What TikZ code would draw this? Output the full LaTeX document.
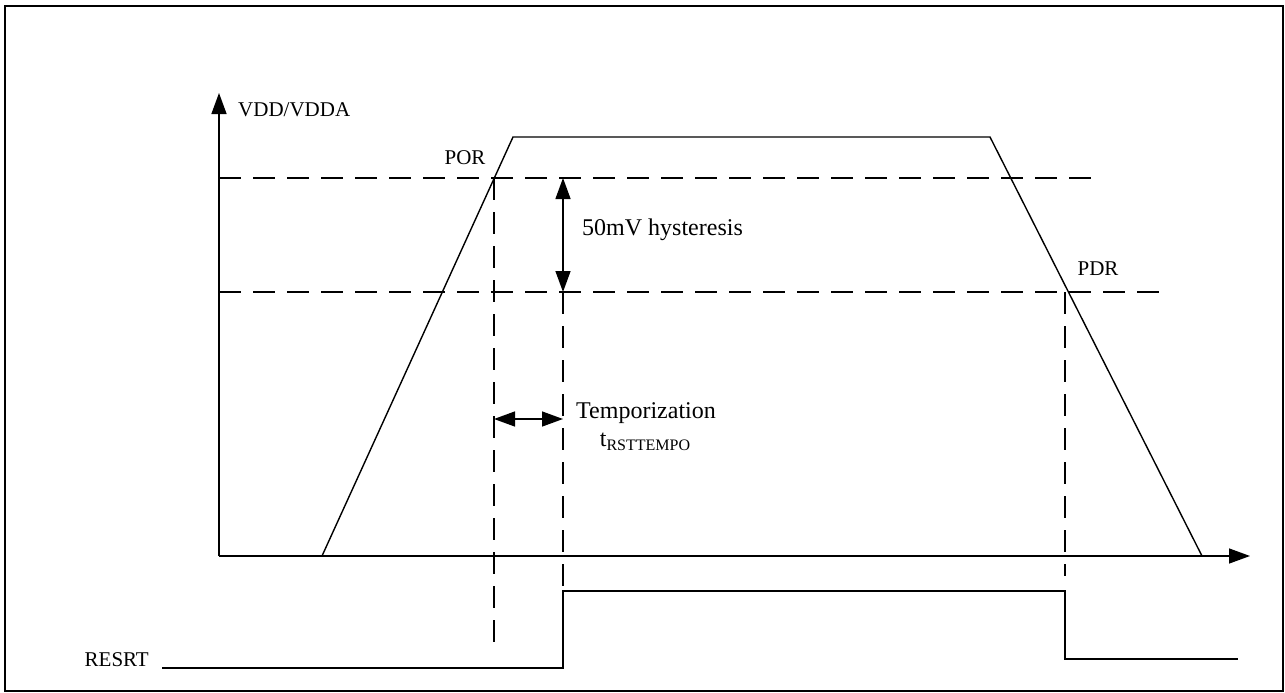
\documentclass[tikz,border=0pt]{standalone}
\usepackage{fontspec}
\setmainfont{Liberation Serif}
\usetikzlibrary{arrows.meta}
\begin{document}
\begin{tikzpicture}[x=1pt,y=-1pt,
  sig/.style={line width=1.4pt, line join=miter},
  dsh/.style={line width=1.4pt, dash pattern=on 22pt off 12pt},
  tip/.style={line width=1.4pt,-{Triangle[length=21pt,width=15pt]}},
  tips/.style={line width=1.4pt,{Triangle[length=21pt,width=15pt]}-{Triangle[length=21pt,width=15pt]}},
  lbl/.style={inner sep=0pt, font=\fontsize{21}{25}\selectfont},
  big/.style={inner sep=0pt, font=\fontsize{24}{28}\selectfont}]
\useasboundingbox (0,0) rectangle (1285,693);
\draw[line width=2pt] (5,6) rectangle (1283,691);
% axes
\coordinate (O) at (219,556);
\coordinate (ytop) at (219,93);
\coordinate (xend) at (1250,556);
\draw[tip] (O) -- (ytop);
\draw[tip] (O) -- (xend);
% supply waveform
\coordinate (r0) at (322,556);
\coordinate (r1) at (513,137);
\coordinate (f1) at (990,137);
\coordinate (f0) at (1202,556);
\draw[sig] (r0) -- (r1) -- (f1) -- (f0);
% thresholds
\coordinate (por0) at (219,178);
\coordinate (por1) at (1096,178);
\coordinate (pdr0) at (219,292);
\coordinate (pdr1) at (1166,292);
\draw[dsh] (por0) -- (por1);
\draw[dsh] (pdr0) -- (pdr1);
% vertical guides
\coordinate (va0) at (494,178);
\coordinate (va1) at (494,642);
\coordinate (vb0) at (563,292);
\coordinate (vb1) at (563,591);
\coordinate (vc0) at (1065,292);
\coordinate (vc1) at (1065,576);
\draw[dsh] (va0) -- (va1);
\draw[dsh] (vb0) -- (vb1);
\draw[dsh] (vc0) -- (vc1);
% hysteresis arrow
\coordinate (h0) at (563,178);
\coordinate (h1) at (563,292);
\draw[tips] (h0) -- (h1);
% temporization arrow
\coordinate (t0) at (494,419);
\coordinate (t1) at (563,419);
\draw[tips] (t0) -- (t1);
% reset waveform
\coordinate (s0) at (162,668);
\coordinate (s1) at (563,668);
\coordinate (s2) at (563,591);
\coordinate (s3) at (1065,591);
\coordinate (s4) at (1065,659);
\coordinate (s5) at (1238,659);
\draw[sig] (s0) -- (s1) -- (s2) -- (s3) -- (s4) -- (s5);
% labels
\node[lbl, anchor=west] (vdd) at (238,110) {VDD/VDDA};
\node[lbl] (por) at (465,158) {POR};
\node[lbl] (pdr) at (1098,269) {PDR};
\node[big, anchor=west] (hys) at (582,230) {50mV hysteresis};
\node[big, anchor=west] (tmp) at (576,413) {Temporization};
\node[big] (tr) at (645,442) {t\raisebox{-0.4ex}{\fontsize{16}{19}\selectfont RSTTEMPO}};
\node[lbl, anchor=east] (rst) at (149,660) {RESRT};
\end{tikzpicture}
\end{document}
